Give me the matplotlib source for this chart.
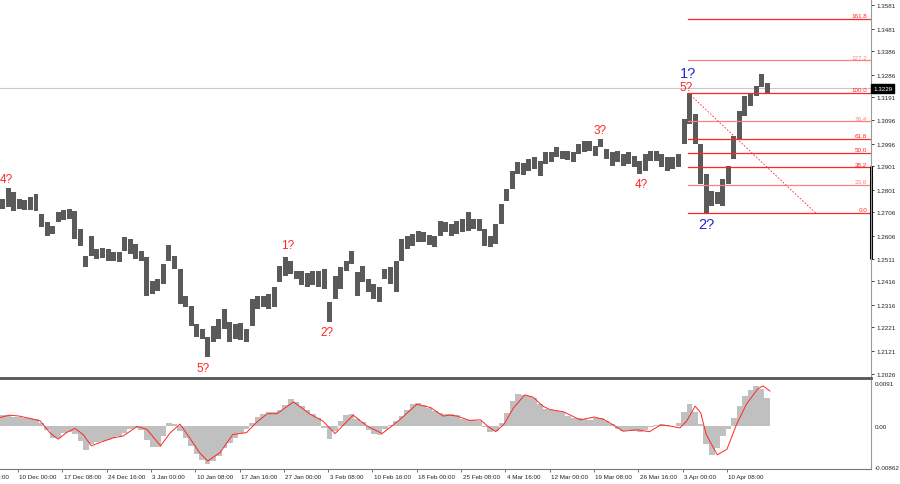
import numpy as np
import matplotlib
matplotlib.use("Agg")
import matplotlib.pyplot as plt
import matplotlib.transforms as mtransforms

plt.rcParams['font.family'] = ['Liberation Sans', 'DejaVu Sans']

# ---- price data: H4 bars taken four at a time (high / low of each group) ----
highs = [1.2763, 1.2809, 1.2792, 1.2763, 1.2758, 1.2771, 1.2784, 1.2700, 1.2666, 1.2649,
         1.2708, 1.2716, 1.2721, 1.2712, 1.2636, 1.2522, 1.2607, 1.2552, 1.2556, 1.2552,
         1.2539, 1.2539, 1.2603, 1.2594, 1.2573, 1.2544, 1.2518, 1.2417, 1.2426, 1.2489,
         1.2569, 1.2522, 1.2468, 1.2354, 1.2312, 1.2236, 1.2215, 1.2181, 1.2227, 1.2257,
         1.2299, 1.2244, 1.2236, 1.2240, 1.2215, 1.2341, 1.2354, 1.2354, 1.2362, 1.2392,
         1.2480, 1.2518, 1.2501, 1.2459, 1.2459, 1.2451, 1.2459, 1.2459, 1.2468, 1.2329,
         1.2438, 1.2476, 1.2501, 1.2544, 1.2455, 1.2480, 1.2426, 1.2404, 1.2392, 1.2468,
         1.2476, 1.2501, 1.2594, 1.2607, 1.2615, 1.2628, 1.2624, 1.2611, 1.2607, 1.2670,
         1.2666, 1.2657, 1.2670, 1.2679, 1.2708, 1.2679, 1.2679, 1.2636, 1.2607, 1.2657,
         1.2742, 1.2805, 1.2881, 1.2919, 1.2915, 1.2931, 1.2940, 1.2923, 1.2961, 1.2961,
         1.2982, 1.2965, 1.2965, 1.2961, 1.2995, 1.3007, 1.3007, 1.2986, 1.3016, 1.2974,
         1.2961, 1.2965, 1.2953, 1.2961, 1.2944, 1.2923, 1.2953, 1.2965, 1.2965, 1.2953,
         1.2940, 1.2940, 1.2953, 1.3100, 1.3210, 1.3121, 1.2995, 1.2868, 1.2797, 1.2792,
         1.2847, 1.2902, 1.3028, 1.3134, 1.3197, 1.3206, 1.3239, 1.3290, 1.3252]
lows = [1.2721, 1.2729, 1.2712, 1.2721, 1.2717, 1.2716, 1.2712, 1.2645, 1.2607, 1.2615,
        1.2666, 1.2674, 1.2679, 1.2594, 1.2565, 1.2476, 1.2522, 1.2510, 1.2514, 1.2501,
        1.2501, 1.2497, 1.2544, 1.2531, 1.2510, 1.2501, 1.2354, 1.2362, 1.2375, 1.2404,
        1.2501, 1.2468, 1.2320, 1.2307, 1.2227, 1.2181, 1.2173, 1.2097, 1.2160, 1.2173,
        1.2215, 1.2160, 1.2173, 1.2170, 1.2160, 1.2227, 1.2299, 1.2307, 1.2299, 1.2307,
        1.2413, 1.2438, 1.2447, 1.2426, 1.2400, 1.2392, 1.2400, 1.2392, 1.2383, 1.2244,
        1.2341, 1.2383, 1.2459, 1.2489, 1.2354, 1.2413, 1.2371, 1.2341, 1.2329, 1.2426,
        1.2404, 1.2371, 1.2501, 1.2552, 1.2565, 1.2582, 1.2582, 1.2569, 1.2560, 1.2607,
        1.2624, 1.2607, 1.2615, 1.2624, 1.2628, 1.2636, 1.2628, 1.2565, 1.2560, 1.2573,
        1.2657, 1.2754, 1.2805, 1.2868, 1.2864, 1.2881, 1.2889, 1.2860, 1.2910, 1.2919,
        1.2940, 1.2931, 1.2927, 1.2919, 1.2953, 1.2961, 1.2965, 1.2944, 1.2982, 1.2931,
        1.2902, 1.2919, 1.2902, 1.2910, 1.2898, 1.2868, 1.2881, 1.2923, 1.2923, 1.2898,
        1.2881, 1.2889, 1.2898, 1.2995, 1.3079, 1.2995, 1.2826, 1.2704, 1.2733, 1.2742,
        1.2733, 1.2826, 1.2931, 1.3016, 1.3113, 1.3155, 1.3197, 1.3235, 1.3206]

# ---- MACD histogram (same groups) and signal line ----
macd_hist = [0.0023, 0.0023, 0.0019, 0.0019, 0.0017, 0.0017, 0.0015, 0.0006, -0.0008, -0.0025,
             -0.0025, -0.0015, -0.0013, -0.0017, -0.0032, -0.0051, -0.0038, -0.0034, -0.0032, -0.0030,
             -0.0025, -0.0021, -0.0015, -0.0006, -0.0004, -0.0008, -0.0030, -0.0044, -0.0044, -0.0021,
             0.0006, 0.0004, -0.0011, -0.0025, -0.0042, -0.0059, -0.0072, -0.0080, -0.0074, -0.0063,
             -0.0047, -0.0036, -0.0025, -0.0015, -0.0006, 0.0006, 0.0019, 0.0025, 0.0030, 0.0030,
             0.0034, 0.0044, 0.0057, 0.0051, 0.0042, 0.0034, 0.0025, 0.0017, -0.0004, -0.0028,
             -0.0011, 0.0011, 0.0023, 0.0025, 0.0015, 0.0008, -0.0008, -0.0017, -0.0019, -0.0006,
             0.0002, 0.0011, 0.0021, 0.0034, 0.0047, 0.0049, 0.0044, 0.0038, 0.0032, 0.0028,
             0.0025, 0.0025, 0.0023, 0.0015, 0.0013, 0.0013, 0.0011, -0.0002, -0.0013, -0.0011,
             0.0006, 0.0028, 0.0053, 0.0068, 0.0066, 0.0063, 0.0059, 0.0047, 0.0036, 0.0034,
             0.0032, 0.0030, 0.0021, 0.0017, 0.0017, 0.0015, 0.0013, 0.0017, 0.0017, 0.0011,
             0.0004, -0.0006, -0.0011, -0.0008, -0.0011, -0.0013, -0.0008, -0.0002, 0.0002, 0.0004,
             0.0002, 0.0000, 0.0006, 0.0030, 0.0047, 0.0030, 0.0004, -0.0038, -0.0061, -0.0047,
             -0.0021, -0.0006, 0.0017, 0.0042, 0.0063, 0.0076, 0.0085, 0.0078, 0.0059]

sig_bars = [-13, -6, 1, 16, 23, 29, 35, 41, 47, 53, 59, 69, 76, 86, 93, 103, 110, 117, 124,
            131, 137, 146, 155, 165, 172, 180, 187, 199, 211, 220, 229, 242, 252, 263, 276,
            288, 298, 307, 312, 317, 326, 334, 339, 345, 351, 358, 366, 372, 379, 384, 394,
            406, 416, 423, 430, 437, 447, 456, 464, 471, 478, 483, 489, 493, 497, 505, 512,
            519, 526, 534, 538, 543]
sig_vals = [0.0018, 0.0023, 0.0021, 0.0011, -0.0014, -0.0028, -0.0014, -0.0005, -0.0018, -0.0042,
            -0.0035, -0.0025, -0.0021, -0.0001, -0.0007, -0.0042, -0.0014, 0.0004, -0.0025,
            -0.0056, -0.0074, -0.0056, -0.0018, -0.0014, 0.0007, 0.0026, 0.0026, 0.0051, 0.0025,
            0.0011, -0.0016, 0.0023, 0.0000, -0.0016, 0.0014, 0.0046, 0.0039, 0.0021, 0.0023,
            0.0021, 0.0012, 0.0013, 0.0000, -0.0012, 0.0004, 0.0039, 0.0066, 0.0061, 0.0042,
            0.0035, 0.0030, 0.0013, 0.0019, 0.0014, 0.0002, -0.0011, -0.0008, -0.0012, 0.0002,
            0.0000, -0.0004, 0.0011, 0.0042, 0.0028, -0.0018, -0.0061, -0.0049, 0.0004, 0.0046,
            0.0078, 0.0085, 0.0074]

# ---- axis labels ----
time_labels = ['2 Dec 16:00', '10 Dec 00:00', '17 Dec 08:00', '24 Dec 16:00', '3 Jan 00:00',
               '10 Jan 08:00', '17 Jan 16:00', '27 Jan 00:00', '3 Feb 08:00', '10 Feb 16:00',
               '18 Feb 00:00', '25 Feb 08:00', '4 Mar 16:00', '12 Mar 00:00', '19 Mar 08:00',
               '26 Mar 16:00', '3 Apr 00:00', '10 Apr 08:00']
bars_per_label = 32
price_ticks = [1.3581, 1.3481, 1.3386, 1.3286, 1.3191, 1.3096, 1.2996, 1.2901, 1.2801,
               1.2706, 1.2606, 1.2511, 1.2416, 1.2316, 1.2221, 1.2121, 1.2026]
macd_ticks = [0.0091, 0.0, -0.00862]
macd_tick_labels = ['0.0091', '0.00', '-0.00862']
last_price = 1.3229

# ---- fibonacci grid and wave marks ----
fib_low, fib_high = 1.2704, 1.3210
fib_ratios = [0.0, 23.6, 38.2, 50.0, 61.8, 76.4, 100.0, 127.2, 161.8]
fib_light = [23.6, 76.4, 127.2]
fib_start_bar = 484
trend_end_bar = 576

wave_text = ['4?', '5?', '1?', '2?', '3?', '4?', '5?']
wave_bar = [-8.5, 133.5, 195, 223, 420.5, 450, 482.5]
wave_price = [1.2847, 1.2050, 1.2569, 1.2202, 1.3054, 1.2826, 1.3235]
big_text = ['1?', '2?']
big_bar = [484, 497]
big_price = [1.3294, 1.2657]

RED = '#ff2626'
LIGHT = '#ff8080'
BLUE = '#2424d8'

bar_x = -11 + 4 * np.arange(len(highs))
highs = np.array(highs)
lows = np.array(lows)

fig = plt.figure(figsize=(9, 4.85), dpi=100)
ax = fig.add_axes([0, 1 - 379 / 485, 871 / 900, 379 / 485])
ax2 = fig.add_axes([0, 1 - 470 / 485, 871 / 900, 89 / 485])

# price bars
ax.bar(bar_x, highs - lows, bottom=lows, width=3.6, color='#5a5a5a', linewidth=0)

# last price line
ax.axhline(last_price, color='#c8c8c8', lw=0.8, zorder=0)

# fib levels
rng = fib_high - fib_low
yt = mtransforms.blended_transform_factory(ax.transAxes, ax.transData)
for r in fib_ratios:
    lvl = fib_low + rng * r / 100
    c = LIGHT if r in fib_light else RED
    ax.plot([fib_start_bar, 700], [lvl, lvl], color=c, lw=0.9)
    ax.text(0.9955, lvl + 0.0002, '%.1f' % r, transform=yt,
            ha='right', va='bottom', fontsize=4.5, color=c)

# dashed trend line from the 5? top to the 0.0 level
ax.plot([fib_start_bar, trend_end_bar], [fib_high, fib_low], color=RED, lw=0.6,
        linestyle=(0, (2, 2)))

# wave labels
for t, b, p in zip(wave_text, wave_bar, wave_price):
    ax.text(b, p, t, ha='center', va='center', fontsize=8.5, color=RED)
for t, b, p in zip(big_text, big_bar, big_price):
    ax.text(b, p, t, ha='center', va='center', fontsize=10.5, color=BLUE)

ax.set_xlim(-13, 616)
ax.set_ylim(1.2008, 1.3606)
ax.yaxis.tick_right()
ax.set_yticks(price_ticks)
ax.set_yticklabels(['%.4f' % v for v in price_ticks])
ax.tick_params(axis='y', length=2.5, width=0.6, pad=1.5, labelsize=4.5, colors='#222222')
ax.set_xticks([])
for s in ['top', 'left']:
    ax.spines[s].set_visible(False)
ax.spines['right'].set_color('#9a9a9a')
ax.spines['right'].set_linewidth(0.8)
ax.spines['bottom'].set_color('#555555')
ax.spines['bottom'].set_linewidth(2.0)

# thick part on the price scale
ax.plot([1.0, 1.0], [1.2901, 1.2511], color='black', lw=2.2, transform=yt,
        clip_on=False, solid_capstyle='butt')

# current price box
ax.text(1.0 + 2 / 871, last_price, '%.4f' % last_price, transform=yt,
        ha='left', va='center', fontsize=4.5, color='white',
        bbox=dict(boxstyle='square,pad=0.35', facecolor='black', edgecolor='black'))

# MACD panel
ax2.bar(bar_x, macd_hist, width=4.0, color='#c0c0c0', linewidth=0)
ax2.plot(sig_bars, sig_vals, color=RED, lw=0.7)
ax2.set_xlim(-13, 616)
ax2.set_ylim(-0.0091, 0.00974)
ax2.yaxis.tick_right()
ax2.set_yticks(macd_ticks)
ax2.set_yticklabels(macd_tick_labels)
ax2.tick_params(axis='y', length=0, pad=2.5, labelsize=4.5, colors='#222222')
for s in ['top', 'left']:
    ax2.spines[s].set_visible(False)
ax2.spines['right'].set_color('#9a9a9a')
ax2.spines['right'].set_linewidth(0.8)
ax2.spines['bottom'].set_color('#777777')
ax2.spines['bottom'].set_linewidth(0.8)

label_bars = [bars_per_label * (i - 1) for i in range(len(time_labels))]
ax2.set_xticks([b for b in label_bars if b > -13])
ax2.set_xticklabels([])
ax2.tick_params(axis='x', length=2.5, width=0.6, colors='#555555')
xt = mtransforms.blended_transform_factory(ax2.transData, ax2.transAxes)
for b, t in zip(label_bars, time_labels):
    ax2.text(b + 1.0, -0.08, t, transform=xt, ha='left', va='center',
             fontsize=4.5, color='#222222', clip_on=False)

fig.savefig('out.png', dpi=100, facecolor='white')
